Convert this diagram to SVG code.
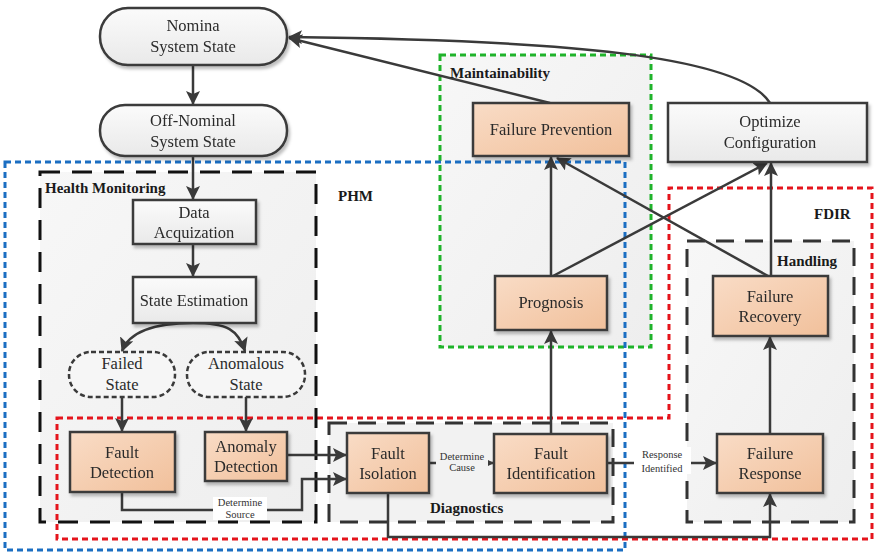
<svg xmlns="http://www.w3.org/2000/svg" width="874" height="554" viewBox="0 0 874 554">
  <defs>
    <linearGradient id="orange" x1="0" y1="0" x2="1" y2="1">
      <stop offset="0" stop-color="#f9dcc6"/>
      <stop offset="1" stop-color="#f1c09b"/>
    </linearGradient>
    <linearGradient id="grey" x1="0" y1="0" x2="0" y2="1">
      <stop offset="0" stop-color="#fbfbfb"/>
      <stop offset="1" stop-color="#e9e9e9"/>
    </linearGradient>
    <linearGradient id="area" x1="0" y1="0" x2="1" y2="1">
      <stop offset="0" stop-color="#f7f7f7"/>
      <stop offset="1" stop-color="#eeeeee"/>
    </linearGradient>
    <filter id="shadow" x="-10%" y="-10%" width="130%" height="140%">
      <feDropShadow dx="2" dy="3" stdDeviation="1.5" flood-color="#000" flood-opacity="0.25"/>
    </filter>
    <marker id="arrow" markerUnits="userSpaceOnUse" markerWidth="14" markerHeight="14" viewBox="0 0 14 14" refX="13" refY="7" orient="auto">
      <path d="M0,0 L14,7 L0,14 L3,7 Z" fill="#3a3a3a"/>
    </marker>
    <marker id="arrowSmall" markerUnits="userSpaceOnUse" markerWidth="6" markerHeight="6" viewBox="0 0 6 6" refX="6" refY="3" orient="auto">
      <path d="M0,0 L6,3 L0,6 Z" fill="#3a3a3a"/>
    </marker>
    <style>
      .node { stroke: #3a3a3a; stroke-width: 2.5; }
      .o { fill: url(#orange); }
      .g { fill: url(#grey); }
      .dash-node { fill: #f6f6f6; stroke: #3a3a3a; stroke-width: 2.5; stroke-dasharray: 5 3; }
      text { font-family: 'Liberation Serif', 'DejaVu Serif', serif; }
      .t { font-size: 16.5px; fill: #2b2b2b; text-anchor: middle; }
      .b { font-size: 15px; font-weight: bold; fill: #1a1a1a; }
      .s { font-size: 10.5px; fill: #333; text-anchor: middle; }
      .conn { fill: none; stroke: #3a3a3a; stroke-width: 2.5; }
      .blue { fill: none; stroke: #1b6ec2; stroke-width: 3; stroke-dasharray: 6 4; }
      .red { fill: none; stroke: #e5141c; stroke-width: 3; stroke-dasharray: 6 4; }
      .green { fill: none; stroke: #1fb32a; stroke-width: 3; stroke-dasharray: 6 4; }
      .blackdash { fill: none; stroke: #111; stroke-width: 3; stroke-dasharray: 20 12; }
      .greydash { fill: none; stroke: #333; stroke-width: 3; stroke-dasharray: 18 11; }
    </style>
  </defs>

  <rect width="874" height="554" fill="#ffffff"/>

  <!-- region backgrounds -->
  <g id="region-fills">
    <rect x="440" y="55" width="211" height="292" fill="url(#area)"/>
    <rect x="40" y="172" width="276" height="350" fill="url(#area)"/>
    <rect x="329" y="423" width="284" height="99" fill="#f2f2f2"/>
    <rect x="687" y="241" width="167" height="281" fill="url(#area)"/>
  </g>

  <!-- region outlines -->
  <g id="regions">
    <rect class="green" x="440" y="55" width="211" height="292"/>
    <rect class="blue" x="5" y="162" width="620" height="388"/>
    <polygon class="red" points="57,418 669,418 669,188 872,188 872,539 57,539"/>
    <rect class="blackdash" x="40" y="172" width="276" height="350"/>
    <rect class="greydash" x="329" y="423" width="284" height="99"/>
    <rect class="greydash" x="687" y="241" width="167" height="281"/>
  </g>

  <!-- connectors -->
  <g id="connectors">
    <path class="conn" d="M193,65 V104" marker-end="url(#arrow)"/>
    <path class="conn" d="M193,156 V199" marker-end="url(#arrow)"/>
    <path class="conn" d="M193,244 V276" marker-end="url(#arrow)"/>
    <path class="conn" d="M193,323 C158,323 130,330 122,351" marker-end="url(#arrow)"/>
    <path class="conn" d="M193,323 C228,323 238,330 245,351" marker-end="url(#arrow)"/>
    <path class="conn" d="M122,397 V431" marker-end="url(#arrow)"/>
    <path class="conn" d="M246,397 V431" marker-end="url(#arrow)"/>
    <path class="conn" d="M287,455 H346" marker-end="url(#arrow)"/>
    <path class="conn" d="M122,492 V510 H302 V479 H346" marker-end="url(#arrow)"/>
    <path class="conn" d="M388,493 V537 H770 V494" marker-end="url(#arrow)"/>
    <path class="conn" d="M429,463 H494" marker-end="url(#arrowSmall)"/>
    <path class="conn" d="M607,463 H716" marker-end="url(#arrow)"/>
    <path class="conn" d="M551,434 V331" marker-end="url(#arrow)"/>
    <path class="conn" d="M770,434 V337" marker-end="url(#arrow)"/>
    <path class="conn" d="M551,276 V157" marker-end="url(#arrow)"/>
    <path class="conn" d="M553,276 L767,163" marker-end="url(#arrow)"/>
    <path class="conn" d="M768,276 L557,158" marker-end="url(#arrow)"/>
    <path class="conn" d="M771,276 V163" marker-end="url(#arrow)"/>
    <path class="conn" d="M550,103 L289,38" marker-end="url(#arrow)"/>
    <path class="conn" d="M770,103 C740,55 560,40 289,37" marker-end="url(#arrow)"/>
    <!-- connector labels -->
    <rect x="213" y="497" width="54" height="23" fill="#ffffff"/>
    <text class="s" x="240" y="506">Determine</text>
    <text class="s" x="240" y="518">Source</text>
    <rect x="436" y="451" width="52" height="22" fill="#f2f2f2"/>
    <text class="s" x="462" y="460">Determine</text>
    <text class="s" x="462" y="471">Cause</text>
    <rect x="634" y="447" width="57" height="27" fill="#ffffff"/>
    <text class="s" x="662" y="458" font-size="12">Response</text>
    <text class="s" x="662" y="472" font-size="12">Identified</text>
  </g>

  <!-- nodes -->
  <g id="nomina" filter="url(#shadow)">
    <rect class="node g" x="100" y="8" width="187" height="57" rx="28"/>
    <text class="t" x="193" y="31">Nomina</text>
    <text class="t" x="193" y="52">System State</text>
  </g>
  <g id="off-nominal" filter="url(#shadow)">
    <rect class="node g" x="100" y="105" width="187" height="51" rx="25"/>
    <text class="t" x="193" y="126">Off-Nominal</text>
    <text class="t" x="193" y="147">System State</text>
  </g>
  <g id="data-acquization" filter="url(#shadow)">
    <rect class="node g" x="133" y="200" width="123" height="44"/>
    <text class="t" x="194" y="218">Data</text>
    <text class="t" x="194" y="238">Acquization</text>
  </g>
  <g id="state-estimation" filter="url(#shadow)">
    <rect class="node g" x="133" y="277" width="123" height="46"/>
    <text class="t" x="194" y="306">State Estimation</text>
  </g>
  <g id="failed-state">
    <rect class="dash-node" x="69" y="352" width="106" height="45" rx="22"/>
    <text class="t" x="122" y="369">Failed</text>
    <text class="t" x="122" y="390">State</text>
  </g>
  <g id="anomalous-state">
    <rect class="dash-node" x="187" y="352" width="118" height="45" rx="22"/>
    <text class="t" x="246" y="369">Anomalous</text>
    <text class="t" x="246" y="390">State</text>
  </g>
  <g id="fault-detection" filter="url(#shadow)">
    <rect class="node o" x="70" y="432" width="105" height="60"/>
    <text class="t" x="122" y="458">Fault</text>
    <text class="t" x="122" y="478">Detection</text>
  </g>
  <g id="anomaly-detection" filter="url(#shadow)">
    <rect class="node o" x="205" y="432" width="82" height="49"/>
    <text class="t" x="246" y="452">Anomaly</text>
    <text class="t" x="246" y="472">Detection</text>
  </g>
  <g id="fault-isolation" filter="url(#shadow)">
    <rect class="node o" x="347" y="433" width="82" height="60"/>
    <text class="t" x="388" y="459">Fault</text>
    <text class="t" x="388" y="479">Isolation</text>
  </g>
  <g id="fault-identification" filter="url(#shadow)">
    <rect class="node o" x="494" y="434" width="113" height="59"/>
    <text class="t" x="551" y="459">Fault</text>
    <text class="t" x="551" y="479">Identification</text>
  </g>
  <g id="failure-response" filter="url(#shadow)">
    <rect class="node o" x="717" y="434" width="106" height="59"/>
    <text class="t" x="770" y="459">Failure</text>
    <text class="t" x="770" y="479">Response</text>
  </g>
  <g id="failure-recovery" filter="url(#shadow)">
    <rect class="node o" x="713" y="276" width="115" height="60"/>
    <text class="t" x="770" y="302">Failure</text>
    <text class="t" x="770" y="322">Recovery</text>
  </g>
  <g id="prognosis" filter="url(#shadow)">
    <rect class="node o" x="495" y="276" width="112" height="54"/>
    <text class="t" x="551" y="308">Prognosis</text>
  </g>
  <g id="failure-prevention" filter="url(#shadow)">
    <rect class="node o" x="473" y="103" width="156" height="53"/>
    <text class="t" x="551" y="135">Failure Prevention</text>
  </g>
  <g id="optimize-configuration" filter="url(#shadow)">
    <rect class="node g" x="668" y="103" width="199" height="59"/>
    <text class="t" x="770" y="127">Optimize</text>
    <text class="t" x="770" y="148">Configuration</text>
  </g>

  <!-- region titles -->
  <g id="region-labels">
    <text class="b" x="45" y="193">Health Monitoring</text>
    <text class="b" x="338" y="201">PHM</text>
    <text class="b" x="450" y="78">Maintainability</text>
    <text class="b" x="814" y="219">FDIR</text>
    <text class="b" x="777" y="266">Handling</text>
    <text class="b" x="430" y="513">Diagnostics</text>
  </g>
</svg>
